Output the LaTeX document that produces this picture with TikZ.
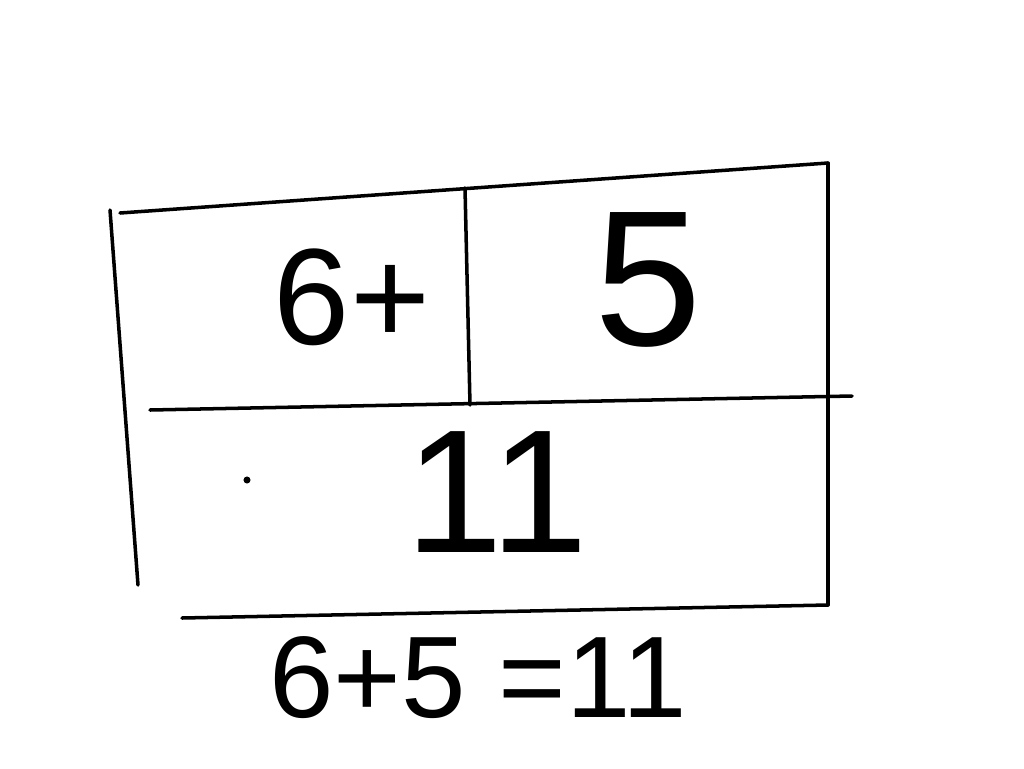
\documentclass[tikz,border=0pt]{standalone}
\usepackage{fontspec}
\setmainfont{Liberation Sans}
\begin{document}
\begin{tikzpicture}[x=0.02cm,y=-0.02cm,line width=2pt,line cap=round]
		\useasboundingbox (0,0) rectangle (1024,768);
		
		% outer box, drawn freehand
		\draw (120,213) -- (828,163);
		
		\draw (828,163) -- (828,605);
		
		\draw (182,618) -- (828,605);
		
		\draw (110,210) -- (138,585);
		
		% part lines
		\draw (150,410) -- (852,396);
		
		\draw (465,188) -- (470,405);
		
		\fill[black] (247,480) circle (2pt);
		
		\node[font=\fontsize{78}{78}\selectfont] (partA) at (352,297) {6+};
		
		\node[font=\fontsize{110}{110}\selectfont] (partB) at (648,280) {5};
		
		\node[font=\fontsize{100}{100}\selectfont] (whole) at (497,492) {11};
		
		\node[font=\fontsize{66}{66}\selectfont] (sum) at (478,678) {6+5 =11};
		
	\end{tikzpicture}
\end{document}
